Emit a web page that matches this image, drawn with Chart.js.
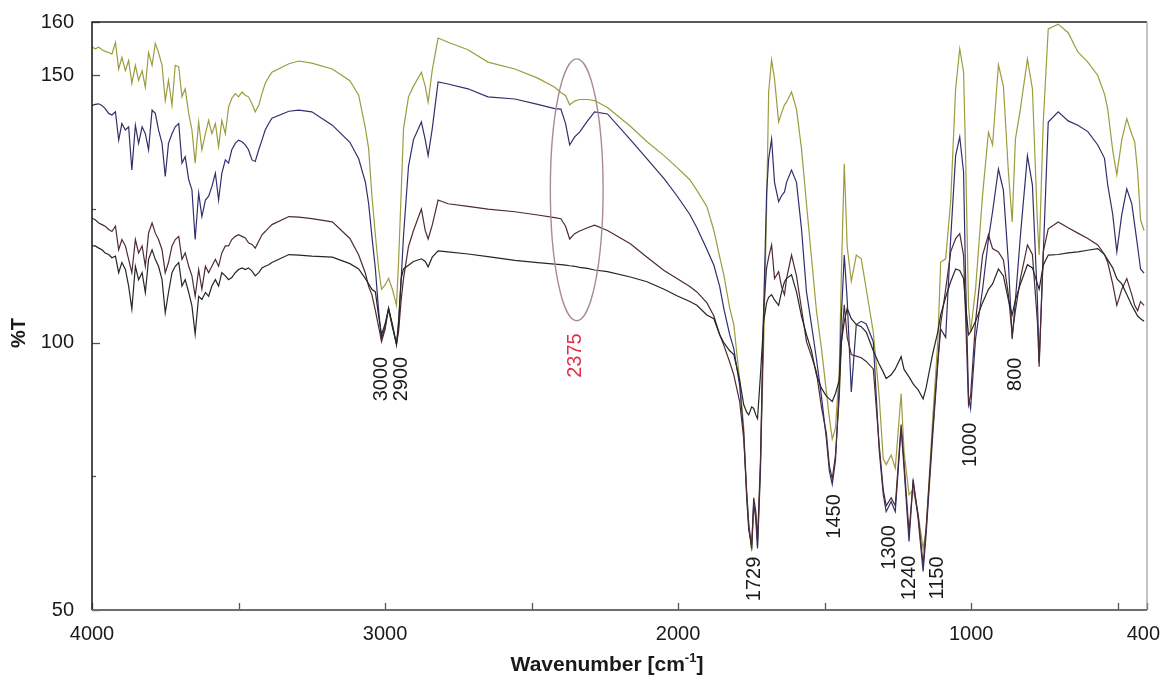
<!DOCTYPE html>
<html>
<head>
<meta charset="utf-8">
<script src="https://cdn.jsdelivr.net/npm/chart.js@4.4.1/dist/chart.umd.min.js"></script>
<style>
    html, body { margin: 0; padding: 0; background: #ffffff; }
    #ftir { display: block; }
</style>
</head>
<body>
<canvas id="ftir" width="1162" height="679"></canvas>
<script>
// ========== FTIR スペクトル ==========

// 波数 (cm-1)、4本の曲線で共通
const wavenumbers = [
    4000, 3989, 3977, 3966, 3955, 3943, 3932, 3920, 3909, 3898,
    3886, 3875, 3864, 3852, 3841, 3829, 3818, 3807, 3795, 3784,
    3773, 3761, 3750, 3739, 3727, 3716, 3704, 3693, 3682, 3670,
    3659, 3648, 3636, 3625, 3613, 3602, 3591, 3579, 3568, 3557,
    3545, 3534, 3523, 3511, 3500, 3488, 3477, 3466, 3454, 3443,
    3431, 3420, 3409, 3397, 3386, 3328, 3294, 3250, 3180, 3120, 3090, 3067,
    3056, 3045, 3033, 3022, 3012, 3000, 2988, 2975, 2961, 2954,
    2945, 2937, 2920, 2903, 2876, 2863, 2853, 2839, 2819, 2785,
    2717, 2649, 2557, 2479, 2421, 2400, 2384, 2370, 2353, 2336,
    2309, 2285, 2241, 2163, 2106, 2048, 2004, 1960, 1936, 1902,
    1878, 1858, 1844, 1824, 1810, 1790, 1776, 1766, 1759, 1749,
    1742, 1735, 1729, 1719, 1708, 1698, 1691, 1681, 1671, 1657,
    1647, 1637, 1630, 1613, 1596, 1579, 1562, 1545, 1528, 1511,
    1494, 1484, 1474, 1463, 1450, 1443, 1433, 1423, 1409, 1392,
    1375, 1358, 1334, 1314, 1300, 1290, 1273, 1259, 1239, 1229,
    1212, 1198, 1181, 1164, 1154, 1131, 1114, 1104, 1087, 1070,
    1053, 1039, 1026, 1019, 1009, 1002, 985, 961, 941, 927,
    907, 890, 873, 860, 849, 832, 808, 791, 774, 768,
    754, 737, 703, 669, 636, 602, 568, 545, 534, 517,
    503, 486, 469, 452, 442, 432, 422, 410,
];

// %T (上から順に)
const oliveT = [
    155.3, 155.0, 155.3, 154.8, 154.5, 154.3, 154.0, 156.2, 151.2, 153.4,
    150.9, 152.8, 148.5, 151.9, 149.1, 150.9, 147.8, 154.3, 151.9, 156.0,
    154.3, 151.9, 145.3, 149.1, 144.4, 151.9, 151.6, 146.0, 147.5, 142.9,
    139.8, 133.6, 141.3, 136.1, 139.1, 141.6, 139.1, 141.0, 136.7, 141.6,
    139.1, 144.1, 145.7, 146.6, 146.0, 146.9, 146.3, 146.0, 144.7, 143.2,
    144.4, 146.6, 148.5, 149.7, 150.6, 152.2, 152.7, 152.3, 151.2, 149.0, 146.3, 140.1,
    136.3, 127.6, 120.1, 113.9, 110.0, 110.8, 112.0, 110.0, 107.0, 115.0,
    128.0, 140.0, 146.0, 148.0, 150.6, 148.0, 145.0, 151.0, 157.0, 156.2,
    154.8, 152.5, 151.2, 149.5, 147.8, 146.8, 146.2, 144.5, 145.2, 145.5,
    145.5, 145.3, 144.0, 140.5, 137.6, 135.0, 132.8, 130.5, 128.5, 125.5,
    121.0, 116.0, 112.7, 106.5, 103.4, 93.0, 84.0, 72.0, 66.0, 61.0,
    69.0, 68.0, 62.0, 77.0, 100.0, 125.0, 147.0, 152.9, 149.3, 141.3,
    143.0, 144.5, 145.0, 146.9, 143.7, 136.3, 126.0, 116.0, 106.0, 99.0,
    90.8, 86.0, 82.0, 84.0, 95.0, 112.7, 133.5, 118.0, 111.5, 116.4,
    115.7, 110.0, 102.0, 90.0, 78.3, 77.2, 79.0, 76.5, 90.5, 79.6,
    71.6, 72.5, 67.9, 61.5, 65.0, 86.0, 100.0, 115.1, 115.7, 126.4,
    147.5, 155.0, 150.7, 135.0, 107.0, 102.0, 110.0, 127.7, 139.4, 137.0,
    152.0, 148.0, 132.0, 122.6, 138.1, 143.7, 153.1, 147.5, 122.6, 116.4,
    141.3, 158.7, 159.6, 158.0, 154.4, 152.5, 150.0, 146.5, 143.7, 136.0,
    131.4, 138.0, 141.9, 139.0, 137.6, 132.0, 123.0, 121.0,
];

const blueT = [
    144.4, 144.6, 144.7, 144.4, 143.8, 142.9, 142.6, 143.2, 137.9, 141.0,
    139.8, 140.4, 132.3, 140.7, 137.3, 140.4, 139.1, 136.1, 143.5, 142.9,
    139.8, 137.3, 131.1, 137.3, 139.1, 140.4, 141.0, 133.6, 134.8, 130.5,
    128.6, 119.3, 128.0, 123.6, 126.7, 127.4, 129.2, 131.7, 126.7, 131.7,
    134.2, 133.6, 136.1, 137.3, 137.9, 137.6, 137.0, 136.1, 134.2, 133.9,
    136.1, 137.9, 139.8, 141.0, 142.0, 143.3, 143.5, 143.2, 140.7, 137.5, 134.4, 130.0,
    126.0, 120.0, 113.8, 106.0, 100.7, 103.0, 106.4, 103.0, 99.8, 103.0,
    112.0, 120.0, 133.0, 138.0, 141.3, 138.0, 135.0, 140.0, 148.8, 148.4,
    147.5, 146.0, 145.6, 144.6, 143.8, 143.7, 141.0, 137.0, 138.5, 139.4,
    141.5, 143.2, 142.8, 138.0, 134.4, 130.7, 127.5, 124.0, 121.5, 117.5,
    114.5, 110.5, 106.4, 101.5, 98.9, 92.0, 83.0, 71.0, 65.0, 62.0,
    70.0, 67.0, 61.5, 76.0, 106.4, 128.0, 134.4, 138.1, 130.0, 126.4,
    127.5, 128.2, 130.0, 132.3, 130.0, 121.3, 109.5, 103.4, 97.0, 90.0,
    82.0, 76.0, 73.5, 78.0, 92.0, 105.0, 116.4, 108.0, 90.8, 103.4,
    104.0, 103.5, 100.2, 80.0, 71.6, 68.4, 70.3, 68.4, 84.0, 76.5,
    62.8, 74.4, 67.1, 57.2, 64.0, 82.8, 96.0, 102.6, 101.0, 119.4,
    135.0, 138.5, 132.0, 112.0, 90.0, 87.7, 100.7, 110.0, 119.4, 124.5,
    132.5, 128.5, 115.0, 100.7, 108.0, 120.0, 135.0, 129.5, 108.0, 96.4,
    116.4, 141.3, 143.2, 141.5, 140.7, 139.5, 137.0, 134.5, 129.5, 124.0,
    117.0, 124.0, 128.8, 126.0, 122.0, 118.0, 113.8, 113.0,
];

const redT = [
    123.3, 123.0, 122.4, 122.1, 121.8, 121.2, 120.8, 121.8, 117.4, 119.3,
    118.1, 115.6, 113.1, 119.3, 116.8, 118.1, 114.3, 120.5, 122.4, 120.5,
    119.3, 117.4, 113.1, 115.0, 118.1, 119.3, 119.9, 115.6, 116.8, 114.3,
    112.5, 108.7, 113.7, 110.0, 114.3, 113.1, 114.3, 115.6, 114.3, 116.8,
    118.1, 118.1, 119.3, 119.9, 120.2, 119.9, 119.6, 118.7, 118.4, 117.7,
    119.0, 120.2, 120.8, 121.5, 122.1, 123.6, 123.5, 123.2, 122.6, 119.5, 116.4, 113.0,
    110.5, 109.0, 106.0, 103.0, 100.2, 102.5, 106.4, 103.0, 99.8, 102.0,
    108.0, 112.0, 118.0, 121.0, 125.0, 121.0, 119.4, 122.0, 126.7, 126.0,
    125.5, 125.0, 124.5, 123.9, 123.4, 123.2, 121.8, 119.4, 120.4, 120.9,
    121.5, 122.0, 121.0, 118.5, 116.0, 113.5, 112.0, 110.5, 109.5, 107.5,
    105.0, 101.5, 99.5, 96.4, 94.0, 89.0, 82.0, 72.0, 66.0, 61.5,
    71.0, 68.5, 63.0, 78.0, 106.4, 114.0, 116.0, 118.3, 112.0, 113.3,
    110.5, 109.0, 112.0, 116.4, 112.5, 106.4, 100.2, 97.5, 94.5, 88.0,
    83.0, 77.0, 74.5, 79.0, 90.0, 100.0, 107.1, 101.0, 97.8, 97.5,
    97.2, 96.5, 95.1, 81.0, 72.5, 69.5, 71.0, 69.5, 84.7, 77.5,
    64.5, 74.0, 67.8, 58.5, 65.0, 84.0, 96.5, 103.5, 110.0, 117.0,
    119.5, 120.4, 116.4, 105.0, 88.4, 90.0, 104.0, 116.4, 120.2, 117.6,
    117.0, 115.5, 109.0, 101.5, 106.0, 112.0, 118.3, 116.5, 104.0, 95.5,
    117.0, 121.3, 122.6, 121.5, 120.5, 119.5, 118.3, 116.5, 115.0, 111.0,
    107.0, 110.0, 112.0, 109.0, 107.0, 106.0, 107.7, 107.0,
];

const blackT = [
    118.1, 118.1, 117.7, 117.4, 116.8, 116.5, 115.9, 116.2, 113.1, 115.0,
    113.7, 110.6, 106.3, 114.3, 111.8, 113.1, 109.4, 115.6, 117.4, 115.6,
    114.3, 111.8, 105.6, 109.4, 113.1, 114.3, 115.0, 110.6, 111.8, 109.4,
    106.9, 101.6, 108.7, 108.1, 109.4, 108.7, 110.6, 111.8, 110.6, 113.1,
    112.5, 111.8, 112.2, 113.1, 113.7, 114.0, 113.7, 114.0, 113.4, 112.5,
    113.1, 114.0, 114.3, 114.6, 115.0, 116.5, 116.4, 116.2, 116.0, 114.8, 113.8, 112.0,
    111.0, 110.0, 109.5, 105.0, 101.5, 103.5, 106.4, 103.5, 99.6, 104.0,
    112.0, 113.8, 114.5, 115.2, 115.7, 115.2, 114.2, 116.0, 117.2, 117.0,
    116.6, 116.1, 115.4, 115.0, 114.7, 114.6, 114.5, 114.4, 114.3, 114.1,
    113.9, 113.6, 113.3, 112.3, 111.4, 110.0, 108.8, 107.7, 107.0, 105.2,
    104.5, 101.5, 100.0, 98.5, 97.8, 93.0, 88.4, 87.0, 86.5, 88.0,
    87.7, 86.5, 85.8, 94.0, 104.0, 107.5, 108.5, 109.0, 108.0, 107.0,
    109.5, 111.4, 112.0, 112.7, 109.5, 105.0, 101.5, 98.5, 94.0, 91.5,
    90.0, 89.5, 89.0, 90.5, 93.0, 100.0, 104.0, 106.4, 104.5, 103.4,
    103.0, 102.0, 98.5, 96.0, 94.5, 93.3, 94.0, 95.1, 97.4, 95.0,
    93.6, 92.3, 91.2, 89.5, 91.5, 98.0, 102.0, 105.2, 108.5, 111.4,
    113.8, 113.5, 112.0, 107.0, 101.5, 102.0, 104.0, 107.5, 110.0, 111.0,
    113.8, 112.5, 108.0, 105.2, 108.0, 111.0, 114.6, 114.0, 111.0, 110.0,
    114.5, 116.4, 116.5, 116.8, 117.0, 117.3, 117.6, 116.5, 115.5, 114.0,
    112.0, 111.0, 109.0, 107.0, 106.0, 105.0, 104.5, 104.0,
];

// 軸の目盛り
const xTickValues = [4000, 3500, 3000, 2500, 2000, 1500, 1000, 500, 400];
const xTickLabels = [4000, 3000, 2000, 1000, 400];
const yTickValues = [50, 75, 100, 125, 150, 160];
const yTickLabels = [50, 100, 150, 160];

// ピーク注記 [テキスト, 波数, %T(文字の中心)]
const peakNotes = [
    ['3000', 3013, 93.2],
    ['2900', 2945, 93.2],
    ['1729', 1740, 55.8],
    ['1450', 1468, 67.5],
    ['1300', 1278, 61.7],
    ['1240', 1210, 56.0],
    ['1150', 1114, 56.0],
    ['1000', 1002, 80.9],
    ['800', 849, 94.1],
];
const co2Note = ['2375', 2350, 97.6];
// 2375 を囲む楕円 [中心波数, 中心%T, 半幅(波数), 半高(%T)]
const co2Ellipse = [2346, 128.6, 90, 24.5];

const FONT = "'Liberation Sans', Arial, Helvetica, sans-serif";

function toPoints(values) {
    return wavenumbers.map((wn, i) => ({ x: wn, y: values[i] }));
}

function makeSeries(label, values, color) {
    return {
        label,
        data: toPoints(values),
        borderColor: color,
        borderWidth: 1.2,
        pointRadius: 0,
        tension: 0,
        fill: false,
    };
}

// ---- 枠、内向き目盛り、x軸ラベル、注記 ----
const frameAndNotes = {
    id: 'frameAndNotes',
    afterDatasetsDraw(chart) {
        const { ctx, chartArea: a, scales: { x, y } } = chart;
        ctx.save();

        // 内向きの目盛り
        ctx.strokeStyle = '#555';
        ctx.lineWidth = 1.3;
        xTickValues.forEach(v => {
            const px = Math.round(x.getPixelForValue(v)) + 0.5;
            ctx.beginPath();
            ctx.moveTo(px, a.bottom);
            ctx.lineTo(px, a.bottom - 7);
            ctx.stroke();
        });
        yTickValues.forEach(v => {
            const py = Math.round(y.getPixelForValue(v)) + 0.5;
            const len = yTickLabels.includes(v) ? 8 : 4;
            ctx.beginPath();
            ctx.moveTo(a.left, py);
            ctx.lineTo(a.left + len, py);
            ctx.stroke();
        });

        // 枠
        ctx.lineWidth = 1.6;
        ctx.strokeStyle = '#222';
        ctx.beginPath();
        ctx.moveTo(a.left, a.bottom);
        ctx.lineTo(a.left, a.top);
        ctx.lineTo(a.right, a.top);
        ctx.stroke();
        ctx.strokeStyle = '#9a9a9a';
        ctx.lineWidth = 1.2;
        ctx.beginPath();
        ctx.moveTo(a.right, a.top);
        ctx.lineTo(a.right, a.bottom);
        ctx.stroke();
        ctx.strokeStyle = '#6e6e6e';
        ctx.lineWidth = 2;
        ctx.beginPath();
        ctx.moveTo(a.left, a.bottom);
        ctx.lineTo(a.right, a.bottom);
        ctx.stroke();

        // x軸の数値 (右端ははみ出さないよう寄せる)
        ctx.fillStyle = '#1a1a1a';
        ctx.font = `20px ${FONT}`;
        ctx.textAlign = 'center';
        ctx.textBaseline = 'top';
        xTickLabels.forEach(v => {
            const text = String(v);
            const w = ctx.measureText(text).width;
            let px = x.getPixelForValue(v);
            px = Math.min(px, chart.width - 2 - w / 2);
            ctx.fillText(text, px, a.bottom + 14);
        });

        // 楕円
        const [ecx, ecy, ehw, ehh] = co2Ellipse;
        const cx = x.getPixelForValue(ecx);
        const cy = y.getPixelForValue(ecy);
        const rx = Math.abs(x.getPixelForValue(ecx - ehw) - cx);
        const ry = Math.abs(y.getPixelForValue(ecy + ehh) - cy);
        ctx.strokeStyle = '#a88c92';
        ctx.lineWidth = 1.4;
        ctx.beginPath();
        ctx.ellipse(cx, cy, rx, ry, 0, 0, Math.PI * 2);
        ctx.stroke();

        // 縦書きのピーク番号
        ctx.font = `20px ${FONT}`;
        ctx.textAlign = 'center';
        ctx.textBaseline = 'middle';
        const drawNote = (note, color) => {
            ctx.save();
            ctx.translate(x.getPixelForValue(note[1]), y.getPixelForValue(note[2]));
            ctx.rotate(-Math.PI / 2);
            ctx.fillStyle = color;
            ctx.fillText(note[0], 0, 0);
            ctx.restore();
        };
        peakNotes.forEach(n => drawNote(n, '#1a1a1a'));
        drawNote(co2Note, '#e0304a');

        // 軸タイトル
        ctx.fillStyle = '#1a1a1a';
        ctx.font = `bold 21px ${FONT}`;
        ctx.textAlign = 'left';
        ctx.textBaseline = 'alphabetic';
        const main = 'Wavenumber [cm';
        const sup = '-1';
        const tail = ']';
        const wMain = ctx.measureText(main).width;
        const wTail = ctx.measureText(tail).width;
        ctx.font = `bold 13px ${FONT}`;
        const wSup = ctx.measureText(sup).width;
        let tx = 607 - (wMain + wSup + wTail) / 2;
        const ty = 671;
        ctx.font = `bold 21px ${FONT}`;
        ctx.fillText(main, tx, ty);
        tx += wMain;
        ctx.font = `bold 13px ${FONT}`;
        ctx.fillText(sup, tx, ty - 9);
        tx += wSup;
        ctx.font = `bold 21px ${FONT}`;
        ctx.fillText(tail, tx, ty);

        ctx.save();
        ctx.translate(19, 333);
        ctx.rotate(-Math.PI / 2);
        ctx.textAlign = 'center';
        ctx.textBaseline = 'middle';
        ctx.font = `bold 20px ${FONT}`;
        ctx.fillText('%T', 0, 0);
        ctx.restore();

        ctx.restore();
    },
};

function renderSpectrum() {
    const canvas = document.getElementById('ftir');
    new Chart(canvas, {
        type: 'line',
        data: {
            datasets: [
                makeSeries('A', blackT, '#262626'),
                makeSeries('B', redT, '#4e2a33'),
                makeSeries('C', blueT, '#2f2f6c'),
                makeSeries('D', oliveT, '#9c9c3e'),
            ],
        },
        options: {
            responsive: false,
            animation: false,
            layout: { padding: { top: 18, right: 15, bottom: 0, left: 0 } },
            plugins: {
                legend: { display: false },
                tooltip: { enabled: false },
            },
            scales: {
                x: {
                    type: 'linear',
                    reverse: true,
                    min: 400,
                    max: 4000,
                    afterBuildTicks: s => { s.ticks = xTickValues.map(v => ({ value: v })); },
                    afterFit: s => { s.height = 69; },
                    grid: { display: false },
                    border: { display: false },
                    ticks: { display: false },
                },
                y: {
                    type: 'linear',
                    min: 50,
                    max: 160,
                    afterBuildTicks: s => { s.ticks = yTickValues.map(v => ({ value: v })); },
                    afterFit: s => { s.width = 92; },
                    grid: { display: false },
                    border: { display: false },
                    ticks: {
                        padding: 10,
                        color: '#1a1a1a',
                        font: { family: FONT, size: 20 },
                        callback: v => (yTickLabels.includes(v) ? String(v) : ''),
                    },
                },
            },
        },
        plugins: [frameAndNotes],
    });
}

renderSpectrum();
</script>
</body>
</html>
